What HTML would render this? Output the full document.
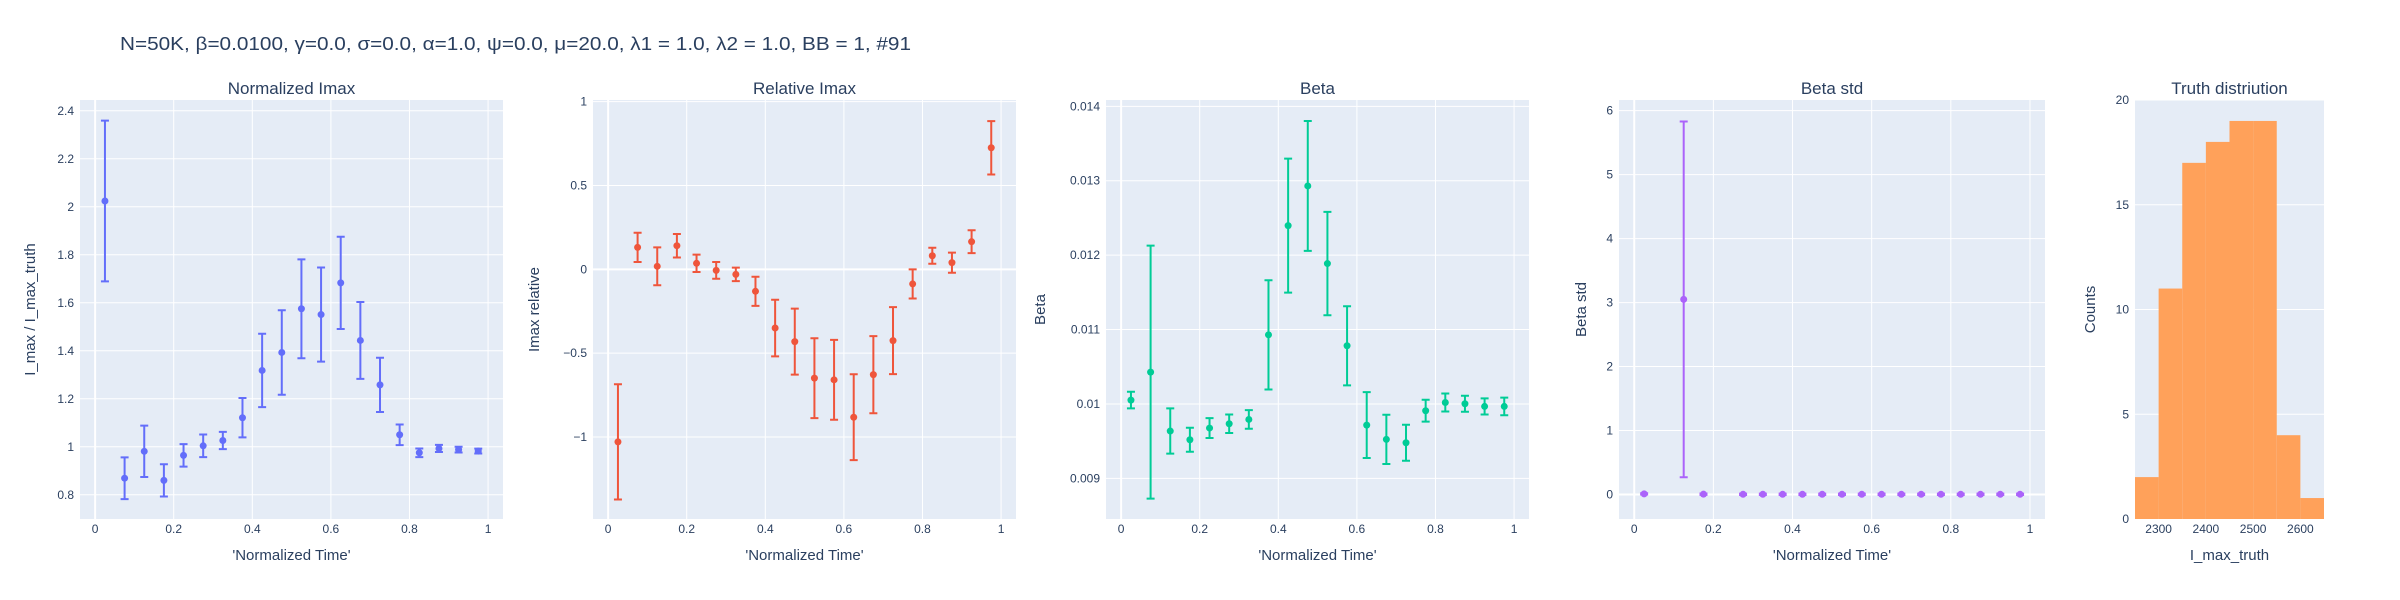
<!DOCTYPE html>
<html><head><meta charset="utf-8"><style>
html,body{margin:0;padding:0;background:#fff;}
svg{display:block;font-family:"Liberation Sans","DejaVu Sans",sans-serif;}
</style></head><body>
<svg id="chart" width="2400" height="600" viewBox="0 0 2400 600" xmlns="http://www.w3.org/2000/svg">
<text x="120" y="50" font-size="18" fill="#2a3f5f" textLength="791" lengthAdjust="spacingAndGlyphs">N=50K, β=0.0100, γ=0.0, σ=0.0,  α=1.0, ψ=0.0, μ=20.0, λ1 = 1.0, λ2 = 1.0, BB = 1, #91</text>
</svg>
<script>
const timeX = [0.025,0.075,0.125,0.175,0.225,0.275,0.325,0.375,0.425,0.475,0.525,0.575,0.625,0.675,0.725,0.775,0.825,0.875,0.925,0.975];
const normImax = [2.024,0.869,0.981,0.860,0.964,1.004,1.026,1.121,1.318,1.393,1.575,1.551,1.683,1.443,1.258,1.050,0.975,0.993,0.988,0.982];
const normImaxErr = [0.335,0.087,0.107,0.067,0.047,0.047,0.036,0.082,0.153,0.176,0.206,0.196,0.192,0.160,0.113,0.043,0.018,0.015,0.012,0.010];
const relImax = [-1.029,0.131,0.018,0.141,0.036,-0.006,-0.030,-0.131,-0.350,-0.431,-0.649,-0.659,-0.882,-0.628,-0.425,-0.087,0.081,0.040,0.165,0.725];
const relImaxErr = [0.344,0.087,0.113,0.070,0.052,0.050,0.040,0.087,0.169,0.197,0.238,0.238,0.256,0.230,0.200,0.087,0.048,0.060,0.068,0.159];
const betaVals = [0.010052,0.010428,0.009636,0.009519,0.009676,0.009734,0.009792,0.010929,0.012397,0.012930,0.011887,0.010782,0.009716,0.009524,0.009479,0.009909,0.010020,0.010003,0.009967,0.009967];
const betaErr = [0.000112,0.0017,0.000304,0.000161,0.000134,0.000125,0.000125,0.000734,0.0009,0.000873,0.000694,0.000532,0.000443,0.000331,0.000242,0.000147,0.000121,0.000107,0.000108,0.000118];
const betaStd = [0.01,null,3.05,0.005,null,0.003,0.003,0.003,0.003,0.003,0.003,0.003,0.003,0.003,0.003,0.003,0.003,0.003,0.003,0.003];
const betaStdErr = [0.01,0,2.78,0.01,0,0.01,0.01,0.01,0.01,0.01,0.01,0.01,0.01,0.01,0.01,0.01,0.01,0.01,0.01,0.01];
const histBinStarts = [2250,2300,2350,2400,2450,2500,2550,2600];
const histCounts = [2,11,17,18,19,19,4,1];
const timeTicks = [0,0.2,0.4,0.6,0.8,1];
const timeTickLabels = ["0","0.2","0.4","0.6","0.8","1"];

const NS="http://www.w3.org/2000/svg";
const svg=document.getElementById('chart');
function mk(tag,attrs,parent){const e=document.createElementNS(NS,tag);for(const k in attrs)e.setAttribute(k,attrs[k]);(parent||svg).appendChild(e);return e;}
const FC="#2a3f5f";

function panel(cfg){
  const g=mk('g',{});
  
  
  const L=cfg.x0,R=cfg.x1,T=100,B=519;
  const sx=v=>L+(v-cfg.xr[0])/(cfg.xr[1]-cfg.xr[0])*(R-L);
  const sy=v=>B-(v-cfg.yr[0])/(cfg.yr[1]-cfg.yr[0])*(B-T);
  const bg=mk('rect',{x:L,y:T,width:R-L,height:B-T,fill:"#e5ecf6"},g);
  
  
  if(cfg.xgrid) cfg.xt.forEach((t,i)=>{
    const x=sx(t);
    mk('line',{x1:x,x2:x,y1:T,y2:B,stroke:"#fff","stroke-width":t===0?2:1},g);
  });
  cfg.yt.forEach((t,i)=>{
    const y=sy(t);
    mk('line',{x1:L,x2:R,y1:y,y2:y,stroke:"#fff","stroke-width":(t===0&&cfg.zero)?2:1},g);
    const lb=mk('text',{x:L-6,y:y+4,"text-anchor":"end","font-size":12,fill:FC},g);
    lb.textContent=cfg.ytl[i];
    
    
  });
  cfg.xt.forEach((t,i)=>{
    const lb=mk('text',{x:sx(t),y:533,"text-anchor":"middle","font-size":12,fill:FC},g);
    lb.textContent=cfg.xtl[i];
    
    
  });
  const tt=mk('text',{x:(L+R)/2,y:94,"text-anchor":"middle","font-size":17,fill:FC},g);
  tt.textContent=cfg.title;
  
  
  const xt=mk('text',{x:(L+R)/2,y:560,"text-anchor":"middle","font-size":15,fill:FC},g);
  xt.textContent=cfg.xtitle;
  
  
  const yt=mk('text',{x:cfg.ytx,y:(T+B)/2,"text-anchor":"middle","font-size":15,fill:FC,transform:`rotate(-90 ${cfg.ytx} ${(T+B)/2})`},g);
  yt.textContent=cfg.ytitle;
  
  
  if(cfg.ys){
    cfg.xs.forEach((xv,i)=>{
      const v=cfg.ys[i]; if(v===null||v===undefined) return;
      const e=cfg.es[i]||0, x=sx(xv);
      if(e>0){
        const bar=mk('path',{d:`M${x},${sy(v-e)}V${sy(v+e)}M${x-4},${sy(v+e)}H${x+4}M${x-4},${sy(v-e)}H${x+4}`,stroke:cfg.color,"stroke-width":2,fill:"none"},g);
        
        
      }
      const c=mk('circle',{cx:x,cy:sy(v),r:3.5,fill:cfg.color},g);
      
      
    });
  }
  if(cfg.bins){
    cfg.bins.forEach((b,i)=>{
      const r=mk('rect',{x:sx(b),y:sy(cfg.counts[i]),width:sx(b+cfg.bw)-sx(b),height:sy(0)-sy(cfg.counts[i]),fill:cfg.color},g);
      
      
    });
  }
}
const xr=[-0.0385,1.038];
panel({name:"normalized-imax",x0:80,x1:503,xr:xr,yr:[0.699,2.445],xgrid:true,xt:timeTicks,xtl:timeTickLabels,
  yt:[0.8,1,1.2,1.4,1.6,1.8,2,2.2,2.4],ytl:["0.8","1","1.2","1.4","1.6","1.8","2","2.2","2.4"],
  title:"Normalized Imax",xtitle:"'Normalized Time'",ytitle:"I_max / I_max_truth",ytx:35,
  xs:timeX,ys:normImax,es:normImaxErr,color:"#636efa"});
panel({name:"relative-imax",x0:593,x1:1016,xr:xr,yr:[-1.489,1.01],xgrid:true,zero:true,xt:timeTicks,xtl:timeTickLabels,
  yt:[-1,-0.5,0,0.5,1],ytl:["−1","−0.5","0","0.5","1"],
  title:"Relative Imax",xtitle:"'Normalized Time'",ytitle:"Imax relative",ytx:539,
  xs:timeX,ys:relImax,es:relImaxErr,color:"#EF553B"});
panel({name:"beta",x0:1106,x1:1529,xr:xr,yr:[0.008454,0.014085],xgrid:true,xt:timeTicks,xtl:timeTickLabels,
  yt:[0.009,0.010,0.011,0.012,0.013,0.014],ytl:["0.009","0.01","0.011","0.012","0.013","0.014"],
  title:"Beta",xtitle:"'Normalized Time'",ytitle:"Beta",ytx:1045,
  xs:timeX,ys:betaVals,es:betaErr,color:"#00cc96"});
panel({name:"beta-std",x0:1619,x1:2045,xr:xr,yr:[-0.383,6.167],xgrid:true,zero:true,xt:timeTicks,xtl:timeTickLabels,
  yt:[0,1,2,3,4,5,6],ytl:["0","1","2","3","4","5","6"],
  title:"Beta std",xtitle:"'Normalized Time'",ytitle:"Beta std",ytx:1586,
  xs:timeX,ys:betaStd,es:betaStdErr,color:"#ab63fa"});
panel({name:"truth-distribution",x0:2135,x1:2324,xr:[2250,2650],yr:[0,20],xgrid:false,xt:[2300,2400,2500,2600],xtl:["2300","2400","2500","2600"],
  yt:[0,5,10,15,20],ytl:["0","5","10","15","20"],
  title:"Truth distriution",xtitle:"I_max_truth",ytitle:"Counts",ytx:2095,
  bins:histBinStarts,counts:histCounts,bw:50,color:"#FFA15A"});
</script>
</body></html>
